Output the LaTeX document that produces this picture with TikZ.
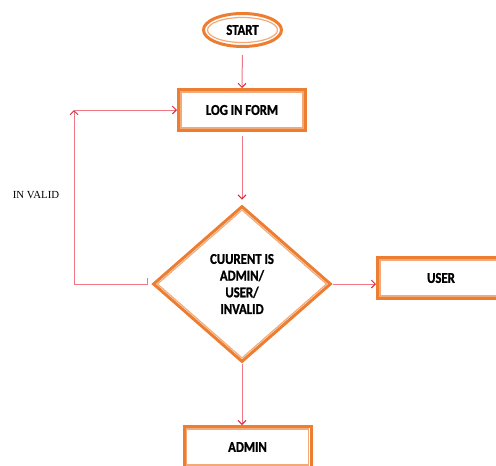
\documentclass[tikz,border=0pt]{standalone}
\usepackage{fontspec}
\setmainfont{Carlito}[BoldFeatures={FakeStretch=0.85,FakeBold=1.2}]
\newfontfamily\labelfont{Liberation Serif}
\usetikzlibrary{shapes.geometric,arrows.meta}
\definecolor{boxorange}{RGB}{237,125,49}
\definecolor{innerorange}{RGB}{243,170,120}
\definecolor{linepink}{RGB}{238,120,132}
\definecolor{headred}{RGB}{220,40,60}
\tikzset{
  outline/.style={draw=boxorange, line width=3pt, inner sep=0pt, fill=white,
    font=\bfseries\fontsize{15}{16.7}\selectfont, align=center, text=black},
  procbox/.style={outline, rectangle, minimum width=127pt, minimum height=41pt},
  terminal/.style={outline, ellipse, minimum width=78pt, minimum height=33pt},
  decision/.style={outline, diamond, minimum width=178pt, minimum height=156pt},
  innerline/.style={draw=innerorange, line width=1.2pt},
  arr/.style={draw=linepink, line width=1pt, -{Straight Barb[length=4pt,width=8pt,color=headred]}},
}
\begin{document}
\begin{tikzpicture}[x=1pt,y=-1pt]
\useasboundingbox (0,0) rectangle (496,466);
% nodes
\node[terminal] (start) at (242.5,30) {START};
\node[procbox] (login) at (242,110) {LOG IN FORM};
\node[decision] (dec) at (242,284) {CUURENT IS\\ADMIN/\\USER/\\INVALID};
\node[procbox] (user) at (441,278) {USER};
\node[procbox] (admin) at (247.5,447) {ADMIN};
\node[font=\labelfont\fontsize{10.8}{12}\selectfont, inner sep=0pt] (invalid) at (36,195) {IN VALID};
% inner contours
\draw[innerline] (start.center) ellipse [x radius=35, y radius=12.5];
\draw[innerline] ([shift={(4,4)}]login.north west) rectangle ([shift={(-4,-4)}]login.south east);
\draw[innerline] ([shift={(4,4)}]user.north west) rectangle ([shift={(-4,-4)}]user.south east);
\draw[innerline] ([shift={(4,4)}]admin.north west) rectangle ([shift={(-4,-4)}]admin.south east);
\draw[innerline] ([shift={(0,5.5)}]dec.north) -- ([shift={(-6,0)}]dec.east) -- ([shift={(0,-5.5)}]dec.south) -- ([shift={(6,0)}]dec.west) -- cycle;
% connectors
\draw[arr, shorten <=7pt] (start.south) -- (login.north);
\draw[arr, shorten <=4pt, shorten >=5pt] (login.south) -- (dec.north);
\draw[arr] (dec.east) -- (user.west |- dec.east);
\draw[arr] (dec.south) -- (dec.south |- admin.north);
\coordinate (lt) at (147,278);
\coordinate (lb) at (147,284);
\coordinate (bl) at (74,284);
\coordinate (tl) at (74,110);
\draw[arr] (lt) -- (lb) -- (bl) -- (tl);
\draw[arr] (tl) -- (login.west);
\end{tikzpicture}
\end{document}
